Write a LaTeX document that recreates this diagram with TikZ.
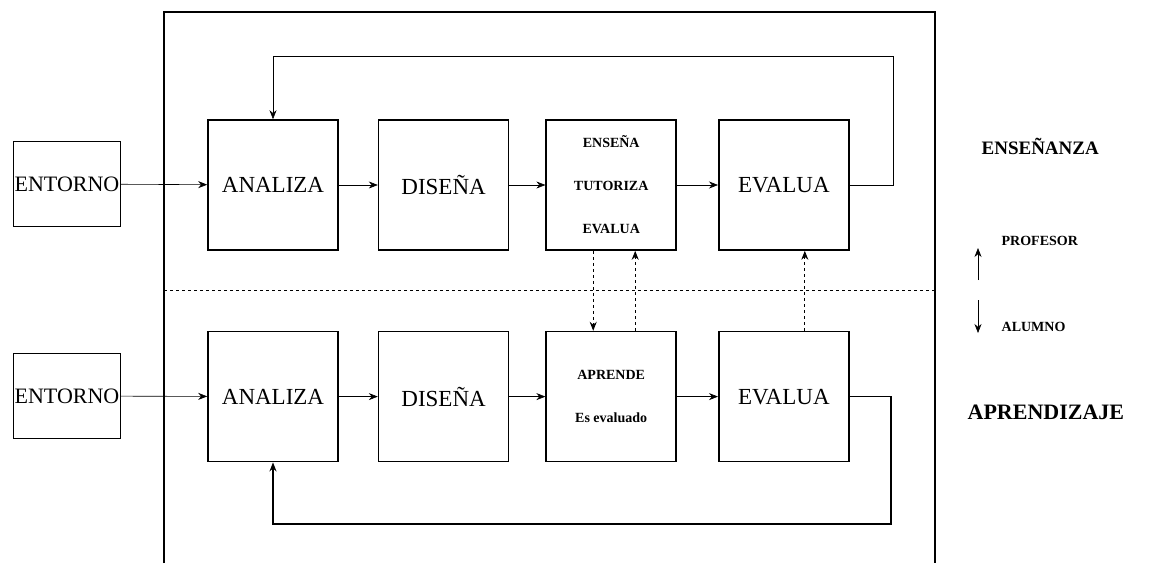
\documentclass[tikz,border=0pt]{standalone}
\usepackage{fontspec}
\setmainfont{Liberation Serif}
\usetikzlibrary{arrows, arrows.meta, positioning}

\begin{document}
\begin{tikzpicture}[x=1pt, y=1pt, ->, >={Stealth[length=9pt, width=7pt]}, semithick, node distance=39pt]
    \tikzset{
        etapa/.style={draw, -, line width=1.6pt, minimum width=130pt, minimum height=130pt, align=center, font=\fontsize{23}{26}\selectfont},
        chica/.style={font=\bfseries\fontsize{14}{43}\selectfont},
        entorno/.style={draw, -, line width=1.2pt, minimum width=107pt, minimum height=85pt, inner sep=1pt, font=\fontsize{22}{26}\selectfont},
        rol/.style={anchor=west, font=\bfseries\fontsize{19}{22}\selectfont},
        enlace/.style={dashed, line width=0.9pt}
    }
    \useasboundingbox (0,-563) rectangle (1159,0);

    % marco y separacion profesor / alumno
    \draw[-, line width=1.2pt] (164,-563) |- (935,-12) -- (935,-563);
    \draw[-, dashed, line width=0.9pt] (164,-290) -- (935,-290);

    % fila de ensenanza
    \node[entorno] (ent1) at (67,-184) {ENTORNO};
    \node[etapa] (ana1) at (273,-185) {ANALIZA};
    \node[etapa] (dis1) [right=of ana1] {DISEÑA};
    \node[etapa, chica] (ens) [right=36pt of dis1] {ENSEÑA\\TUTORIZA\\EVALUA};
    \node[etapa] (eva1) [right=41pt of ens] {EVALUA};

    % fila de aprendizaje
    \node[entorno] (ent2) at (67,-396) {ENTORNO};
    \node[etapa] (ana2) [below=80pt of ana1] {ANALIZA};
    \node[etapa] (dis2) [right=of ana2] {DISEÑA};
    \node[etapa, chica] (apr) [right=36pt of dis2] {APRENDE\\Es evaluado};
    \node[etapa] (eva2) [right=41pt of apr] {EVALUA};

    \coordinate (retro1) at (893,-56);
    \coordinate (retro2) at (891,-524);

    \path
    (ent1) edge (ana1)
    (ana1) edge (dis1)
    (dis1) edge (ens)
    (ens) edge (eva1)
    (ent2) edge (ana2)
    (ana2) edge (dis2)
    (dis2) edge (apr)
    (apr) edge (eva2);

    \draw (eva1.east) -| (retro1) -| (ana1.north);
    \draw[line width=1.6pt] (eva2.east) -| (retro2) -| (ana2.south);

    \draw[enlace] ([xshift=-18pt]ens.south) -- ([xshift=-18pt]apr.north);
    \draw[enlace] ([xshift=24pt]apr.north) -- ([xshift=24pt]ens.south);
    \draw[enlace] ([xshift=21pt]eva2.north) -- ([xshift=21pt]eva1.south);

    % roles
    \node[rol] (ensenanza) at (978,-146) {ENSEÑANZA};
    \node[rol, font=\bfseries\fontsize{22}{26}\selectfont] (aprendizaje) at (964,-412) {APRENDIZAJE};
    \node[rol, font=\bfseries\fontsize{14}{16}\selectfont] (profesor) at (998,-241) {PROFESOR};
    \node[rol, font=\bfseries\fontsize{14}{16}\selectfont] (alumno) at (998,-327) {ALUMNO};
    \coordinate (sube1) at (978,-280);
    \coordinate (sube2) at (978,-248);
    \coordinate (baja1) at (978,-300);
    \coordinate (baja2) at (978,-333);
    \draw (sube1) -- (sube2);
    \draw (baja1) -- (baja2);
\end{tikzpicture}
\end{document}
